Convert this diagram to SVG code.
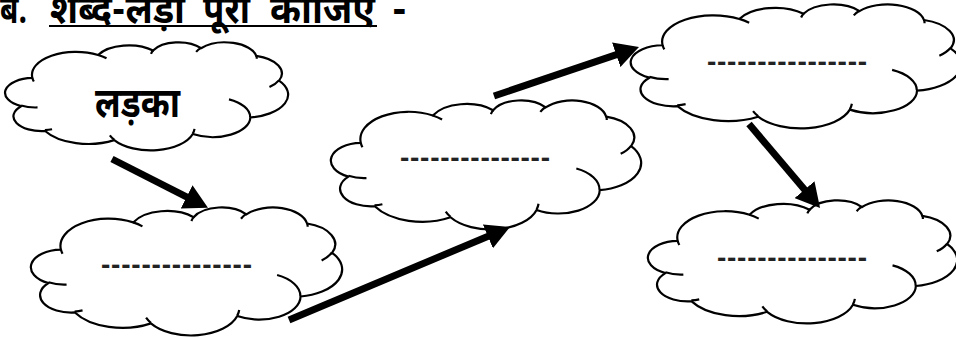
<svg xmlns="http://www.w3.org/2000/svg" xmlns:xlink="http://www.w3.org/1999/xlink" width="956" height="338" viewBox="0 0 956 338">
<style>
.body{fill:#fff;stroke:#000;stroke-width:2.2;vector-effect:non-scaling-stroke;stroke-linejoin:round}
.crease{fill:none;stroke:#000;stroke-width:2.2;vector-effect:non-scaling-stroke}
.hi{font-family:"Noto Sans Devanagari","Noto Sans","Lohit Devanagari",sans-serif;font-weight:bold;fill:#000}
.t{font-size:40px}
.dash{font-family:"Liberation Sans",Arial,sans-serif;font-weight:bold;font-size:28px;fill:#222}
.conn{stroke:#000;stroke-width:7;fill:none;marker-end:url(#head)}
</style>
<defs>
<marker id="head" markerUnits="userSpaceOnUse" markerWidth="24" markerHeight="26" viewBox="0 0 24 26" refX="12" refY="13" orient="auto">
<path d="M0,0 L24,13 L0,26 Z" fill="#000"/>
</marker>
<g id="cloud">
<path class="body" d="M39 143.7 A67.53 91.9 0 0 1 140.05 52.02 A53.33 72.67 0 0 1 224.57 34.31 A43.65 59.45 0 0 1 298.33 24.76 A48.57 65.95 0 0 1 383.18 55.71 A53.33 72.73 0 0 1 418.18 154.54 A67.75 92.2 0 0 1 374.07 302.02 A57.85 78.67 0 0 1 285.58 368.12 A67.52 92.15 0 0 1 164.83 392.65 A77.2 105.43 0 0 1 58.56 355.91 A43.6 59.18 0 0 1 21.63 256.71 A43.45 59.45 0 0 1 39 143.7 Z"/>
<path class="crease" d="M46.93 261.77 A43.45 59.45 0 0 1 21.6 253.8 M69.28 348.99 A43.6 59.18 0 0 1 58.2 352.8 M164.78 390.9 A67.52 92.15 0 0 1 158.1 373.49 M288.27 347.51 A67.52 92.15 0 0 1 285.6 366.6 M341.29 229.54 A57.85 78.67 0 0 1 373.81 300.9 M417.98 153.54 A53.33 72.73 0 0 1 403.5 180.3 M383.24 54.26 A48.57 65.95 0 0 1 384 66.9 M290.78 39.52 A48.57 65.95 0 0 1 298.2 23.4 M221.41 47.2 A43.65 59.45 0 0 1 225 33.3 M140 51.92 A67.53 91.9 0 0 1 153 65.4 M41.27 157.89 A67.53 91.9 0 0 1 39.01 143.71"/>
</g>
</defs>

<g id="title">
<text class="hi t" x="0" y="23" textLength="27" lengthAdjust="spacingAndGlyphs">ब.</text>
<text class="hi t" x="50" y="23" textLength="135" lengthAdjust="spacingAndGlyphs">शब्द-लड़ी</text>
<text class="hi t" x="203" y="23" textLength="47" lengthAdjust="spacingAndGlyphs">पूरी</text>
<text class="hi t" x="270" y="23" textLength="105" lengthAdjust="spacingAndGlyphs">कीजिए</text>
<text class="hi t" x="392" y="23">-</text>
<line x1="49" y1="26" x2="377" y2="26" stroke="#000" stroke-width="2"/>
</g>

<g id="node1">
<use xlink:href="#cloud" transform="translate(7,42) scale(0.65046,0.25)"/>
<text class="hi" font-size="42" x="95" y="117" textLength="85" lengthAdjust="spacingAndGlyphs">लड़का</text>
</g>
<g id="node2">
<use xlink:href="#cloud" transform="translate(33,207) scale(0.71528,0.2963)"/>
<text class="dash" x="101" y="274" textLength="151" lengthAdjust="spacing">---------------</text>
</g>
<g id="node3">
<use xlink:href="#cloud" transform="translate(333,100) scale(0.71296,0.29861)"/>
<text class="dash" x="400" y="167" textLength="150" lengthAdjust="spacing">---------------</text>
</g>
<g id="node4">
<use xlink:href="#cloud" transform="translate(633,4) scale(0.75926,0.28704)"/>
<text class="dash" x="707" y="71" textLength="160" lengthAdjust="spacing">----------------</text>
</g>
<g id="node5">
<use xlink:href="#cloud" transform="translate(650,200) scale(0.71065,0.28472)"/>
<text class="dash" x="717" y="267" textLength="150" lengthAdjust="spacing">---------------</text>
</g>

<g id="connectors">
<line class="conn" x1="112" y1="159" x2="197.3" y2="202.4"/>
<line class="conn" x1="289" y1="320" x2="498.9" y2="231.7"/>
<line class="conn" x1="494" y1="96" x2="627.6" y2="50.9"/>
<line class="conn" x1="749" y1="124" x2="812.3" y2="198.8"/>
</g>
</svg>
